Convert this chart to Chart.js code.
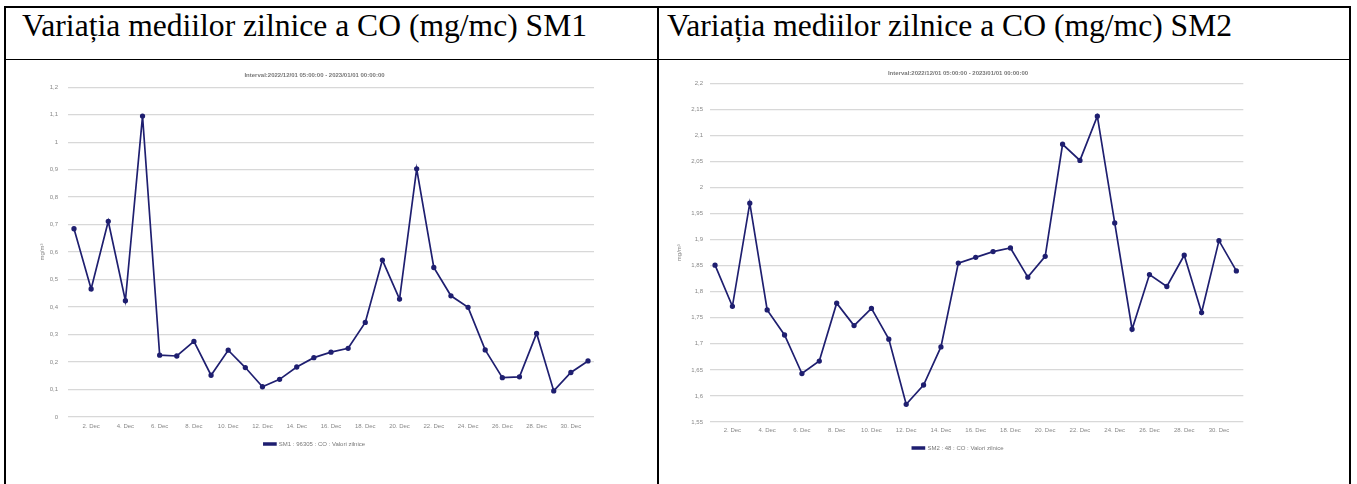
<!DOCTYPE html>
<html>
<head>
<meta charset="utf-8">
<script src="https://cdn.jsdelivr.net/npm/chart.js@4.4.1/dist/chart.umd.min.js"></script>
<style>
    body { margin: 0; background: #fff; width: 1357px; height: 484px; overflow: hidden; position: relative; }
    .rule { position: absolute; background: #000; }
    .head { position: absolute; font-family: "Liberation Serif", "Times New Roman", serif; font-size: 31.6px; line-height: 31.6px; color: #000; white-space: nowrap; }
    canvas { position: absolute; }
</style>
</head>
<body>
<div class="rule" style="left:4px;top:6px;width:1347px;height:2px"></div>
<div class="rule" style="left:4px;top:6px;width:2px;height:480px"></div>
<div class="rule" style="left:657px;top:6px;width:2px;height:480px"></div>
<div class="rule" style="left:1349px;top:6px;width:2px;height:480px"></div>
<div class="rule" style="left:4px;top:59px;width:1347px;height:1px"></div>
<div class="head" style="left:22px;top:9.5px">Variația mediilor zilnice a CO (mg/mc) SM1</div>
<div class="head" style="left:667px;top:9.5px">Variația mediilor zilnice a CO (mg/mc) SM2</div>
<canvas id="chartSM1" width="600" height="420" style="left:15px;top:62px"></canvas>
<canvas id="chartSM2" width="582" height="420" style="left:667px;top:62px"></canvas>
<script>
// days of December 2022
const days = [1, 2, 3, 4, 5, 6, 7, 8, 9, 10, 11, 12, 13, 14, 15, 16, 17, 18, 19, 20, 21, 22, 23, 24, 25, 26, 27, 28, 29, 30, 31];
const dayTicks = [2, 4, 6, 8, 10, 12, 14, 16, 18, 20, 22, 24, 26, 28, 30];

// daily CO means, mg/m3
const valuesSM1 = [0.685, 0.466, 0.712, 0.423, 1.095, 0.225, 0.222, 0.275, 0.152, 0.243, 0.180, 0.110, 0.137, 0.182, 0.216,
    0.236, 0.250, 0.344, 0.571, 0.429, 0.903, 0.544, 0.441, 0.399, 0.244, 0.143, 0.146, 0.304, 0.095, 0.162, 0.204];
const valuesSM2 = [1.851, 1.772, 1.970, 1.765, 1.717, 1.643, 1.667, 1.778, 1.735, 1.768, 1.709, 1.584, 1.621, 1.694, 1.855,
    1.866, 1.877, 1.884, 1.828, 1.868, 2.083, 2.052, 2.137, 1.932, 1.728, 1.833, 1.810, 1.870, 1.760, 1.898, 1.840];

const ticksSM1 = [0, 0.1, 0.2, 0.3, 0.4, 0.5, 0.6, 0.7, 0.8, 0.9, 1, 1.1, 1.2];
const ticksSM2 = [1.55, 1.6, 1.65, 1.7, 1.75, 1.8, 1.85, 1.9, 1.95, 2, 2.05, 2.1, 2.15, 2.2];

const titleText = 'Interval:2022/12/01 05:00:00 - 2023/01/01 00:00:00';
const legendSM1 = 'SM1 : 96305 : CO : Valori zilnice';
const legendSM2 = 'SM2 : 48 : CO : Valori zilnice';

const navy = '#1f1f70';
const smallFont = { family: '"Liberation Sans", Arial, sans-serif', size: 6 };

const makeChart = (id, values, yTicks, label, box) => {
    new Chart(document.getElementById(id), {
        type: 'line',
        data: {
            datasets: [{
                label: label,
                data: days.map((d, i) => ({ x: d, y: values[i] })),
                borderColor: navy,
                backgroundColor: navy,
                borderWidth: 1.7,
                pointRadius: 1.8,
                pointBackgroundColor: navy,
                tension: 0
            }]
        },
        options: {
            responsive: false,
            animation: false,
            layout: { padding: { left: box.padLeft, right: box.padRight, top: 0, bottom: box.padBottom } },
            plugins: {
                title: {
                    display: true,
                    text: titleText,
                    color: '#777',
                    font: smallFont,
                    padding: { top: box.titleTop, bottom: box.titleBottom }
                },
                legend: {
                    position: 'bottom',
                    labels: { boxWidth: 12, boxHeight: 2, padding: 5, color: '#777', font: smallFont }
                },
                tooltip: { enabled: false }
            },
            scales: {
                x: {
                    type: 'linear',
                    min: box.xMin,
                    max: box.xMax,
                    afterBuildTicks: (scale) => { scale.ticks = dayTicks.map(v => ({ value: v })); },
                    afterFit: (scale) => { scale.height = box.xHeight; },
                    grid: { display: false, drawTicks: false },
                    border: { display: false },
                    ticks: {
                        color: '#888',
                        font: smallFont,
                        padding: box.xPad,
                        maxRotation: 0,
                        autoSkip: false,
                        callback: (v) => v + '. Dec'
                    }
                },
                y: {
                    min: yTicks[0],
                    max: yTicks[yTicks.length - 1],
                    afterBuildTicks: (scale) => { scale.ticks = yTicks.map(v => ({ value: v })); },
                    afterFit: (scale) => { scale.width = box.yWidth; },
                    grid: { color: '#d8d8d8', lineWidth: 1.3, drawTicks: false },
                    border: { display: false },
                    ticks: {
                        color: '#888',
                        font: smallFont,
                        padding: box.yPad,
                        callback: (v) => String(v).replace('.', ',')
                    },
                    title: { display: true, text: 'mg/m³', color: '#888', font: smallFont }
                }
            }
        }
    });
};

makeChart('chartSM1', valuesSM1, ticksSM1, legendSM1, {
    padLeft: 20, padRight: 21, padBottom: 25, titleTop: 10, titleBottom: 8,
    xMin: 0.65, xMax: 31.35, xHeight: 19, xPad: 6, yWidth: 33, yPad: 10
});
makeChart('chartSM2', valuesSM2, ticksSM2, legendSM2, {
    padLeft: 5, padRight: 5, padBottom: 21, titleTop: 7.4, titleBottom: 6.7,
    xMin: 0.71, xMax: 31.4, xHeight: 18, xPad: 5, yWidth: 38, yPad: 7
});
</script>
</body>
</html>
